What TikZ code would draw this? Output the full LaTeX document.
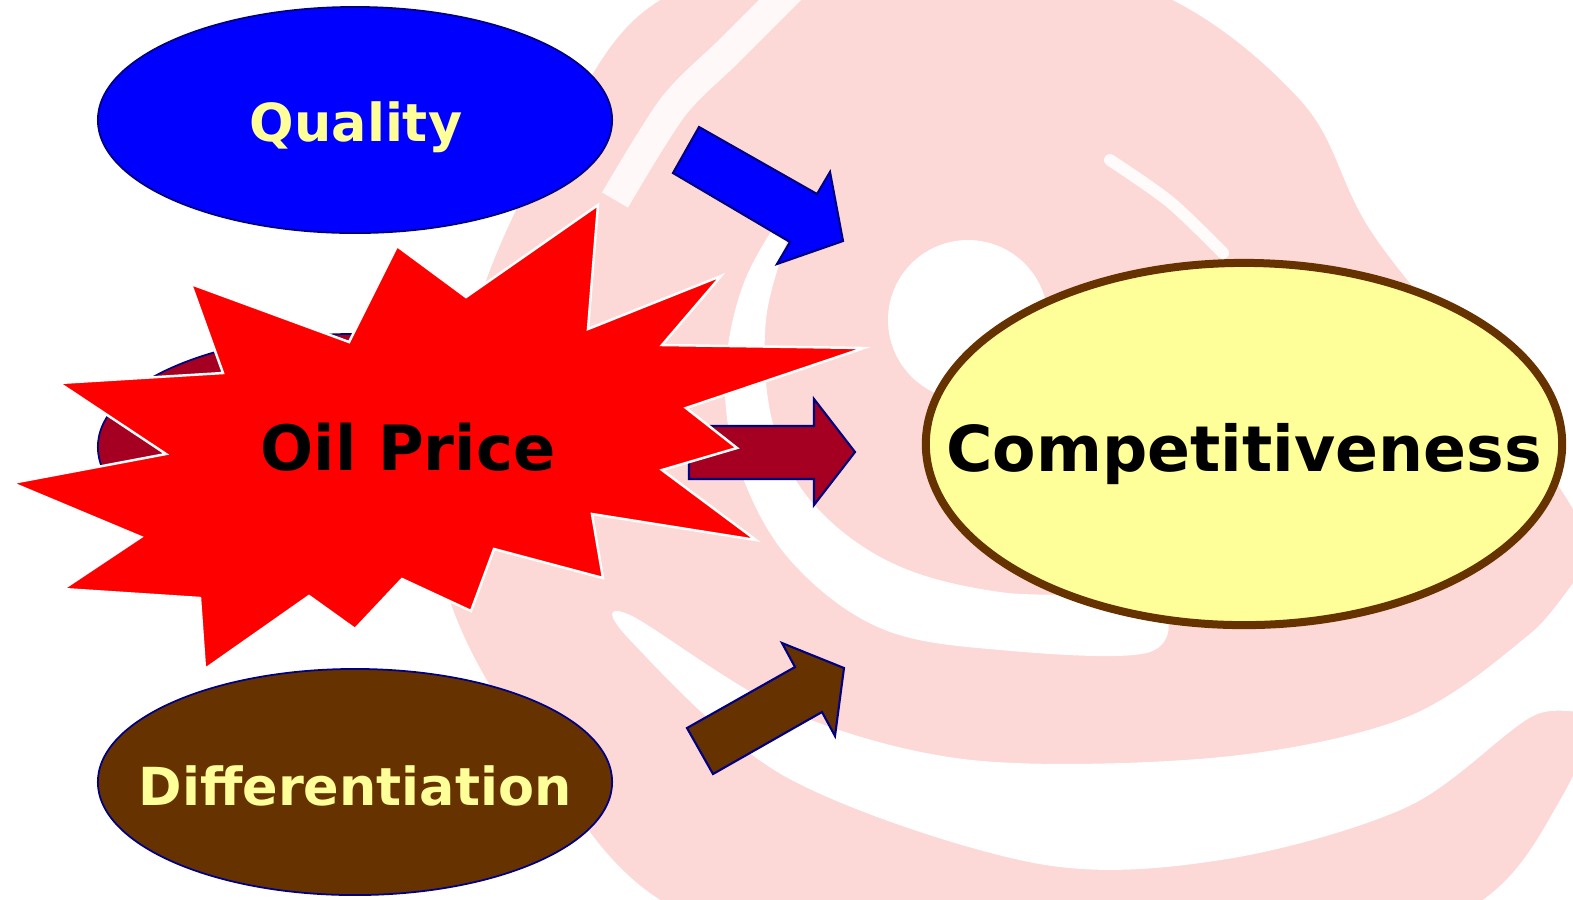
\documentclass[tikz,border=0pt]{standalone}
\usepackage{fontspec}
\setsansfont{DejaVu Sans}
\usetikzlibrary{shapes.geometric}
\definecolor{qBlue}{RGB}{0,0,255}
\definecolor{oilRed}{RGB}{255,0,0}
\definecolor{wine}{RGB}{165,0,33}
\definecolor{bark}{RGB}{102,51,0}
\definecolor{cream}{RGB}{255,255,153}
\definecolor{navyLine}{RGB}{0,0,128}
\definecolor{swirlPink}{RGB}{252,216,214}

\tikzset{
  factor/.style={ellipse, draw=navyLine, line width=0.5pt, minimum width=5.14cm,
    minimum height=2.26cm, inner sep=0pt},
  factorText/.style={text=cream, inner sep=0pt, anchor=base,
    font=\sffamily\bfseries\fontsize{14.9}{16}\selectfont},
  blockarrow/.style={draw=navyLine, line width=0.6pt, line join=miter},
}

\begin{document}
\begin{tikzpicture}[x=0.01cm, y=-0.01cm]
  \useasboundingbox (0,0) rectangle (1573,899);
  \fill[white] (0,0) rectangle (1573,899);

  % faded swirl in the back
  \begin{scope}
    \clip (0,0) rectangle (1573,899);
    \fill[swirlPink] plot[smooth cycle, tension=0.6] coordinates {(560,130) (680,-10)
      (950,-40) (1150,-10) (1300,100) (1372,233) (1500,400) (1610,600) (1560,800)
      (1420,930) (1050,960) (700,920) (540,760) (440,560) (470,330)};
    % top-left streak
    \draw[white, line width=0.3cm, opacity=0.85] plot[smooth] coordinates {(800,-20)
      (730,50) (673,107) (615,200)};
    % inner crescent round the eye
    \fill[white] plot[smooth cycle, tension=0.6] coordinates {(800,190) (745,280) (725,380)
      (740,470) (790,560) (880,628) (1000,650) (1150,652) (1150,600) (1000,592) (890,562)
      (810,500) (772,420) (766,320) (790,230)};
    % outer band at the bottom
    \fill[white] plot[smooth cycle, tension=0.55] coordinates {(630,615) (786,710) (972,760)
      (1221,757) (1407,717) (1531,633) (1600,560) (1600,700) (1531,717) (1407,807)
      (1221,860) (1034,863) (786,777) (630,640)};
    % small tail and the eye
    \draw[white, line width=0.12cm, line cap=round, opacity=0.9] plot[smooth] coordinates
      {(1110,160) (1170,202) (1223,253)};
    \fill[white] (968,320) circle (80);
  \end{scope}

  % the three factors
  \node[factor, fill=qBlue] (quality) at (355,120) {};
  \node[factor, fill=wine] (oilBack) at (355,447) {};
  \node[factor, fill=bark] (diff) at (355,782) {};
  \node[factorText] (qualityTxt) at (356,141.7) {Quality};
  \node[factorText] (diffTxt) at (355,805) {Differentiation};

  % middle arrow, partly under the burst
  \draw[blockarrow, fill=wine] (689,426) -- (814,426) -- (814,399) -- (855,452)
    -- (814,505) -- (814,479) -- (689,479) -- cycle;

  % Oil price burst
  \draw[white, fill=oilRed, line width=0.7pt, line join=miter]
    (191,284) -- (349,342) -- (397,246) -- (466,297) -- (598,205) -- (588,329)
    -- (721,276) -- (662,345) -- (864,348) -- (686,408) -- (737,448) -- (662,470)
    -- (756,540) -- (592,514) -- (603,578) -- (494,549) -- (471,611) -- (402,579)
    -- (355,629) -- (309,596) -- (205,669) -- (200,598) -- (63,589) -- (141,537)
    -- (12,483) -- (166,454) -- (59,383) -- (223,373) -- cycle;
  \node[font=\sffamily\bfseries\fontsize{17.75}{20}\selectfont, inner sep=0pt,
    anchor=base] (oil) at (408,470.7) {Oil Price};

  % arrows toward the goal
  \draw[blockarrow, fill=qBlue] (699,127) -- (817,194) -- (830,172) -- (843,241)
    -- (777,264) -- (790,242) -- (673,173) -- cycle;
  \draw[blockarrow, fill=bark] (687,728) -- (795,667) -- (782,643) -- (844,668)
    -- (835,736) -- (822,712) -- (713,774) -- cycle;

  % goal
  \node[ellipse, draw=bark, line width=0.08cm, fill=cream, minimum width=6.36cm,
    minimum height=3.62cm, inner sep=0pt] (compet) at (1244,444) {};
  \node[font=\sffamily\bfseries\fontsize{18}{20}\selectfont, inner sep=0pt,
    anchor=base] (competTxt) at (1244,471) {Competitiveness};
\end{tikzpicture}
\end{document}
